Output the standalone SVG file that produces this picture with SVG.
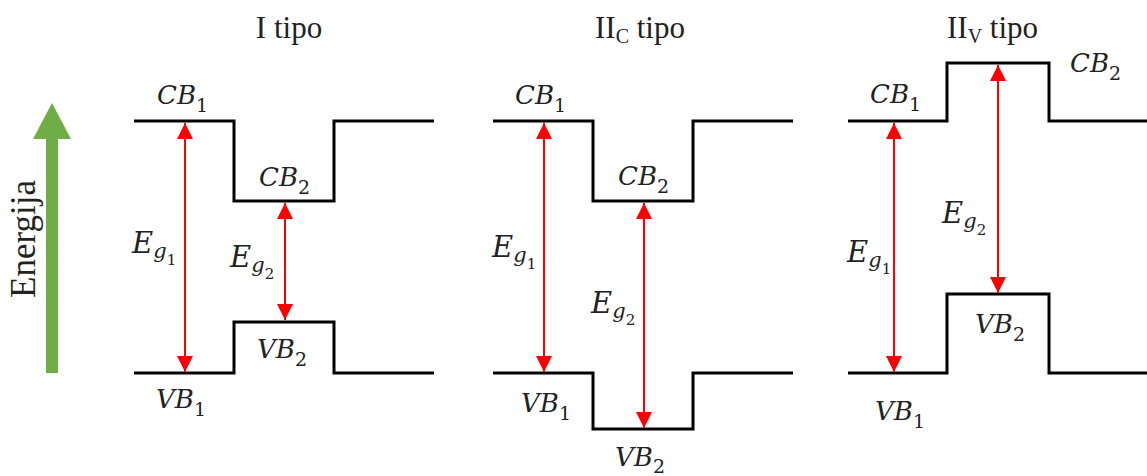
<svg xmlns="http://www.w3.org/2000/svg" width="1147" height="476" viewBox="0 0 1147 476">
<style>
.band{fill:none;stroke:#000;stroke-width:3;stroke-linejoin:miter}
.gap{stroke:#ff0000;stroke-width:2;fill:none;marker-start:url(#ah);marker-end:url(#ah)}
.lbl{font-family:"DejaVu Serif","Liberation Serif",serif;font-style:italic;font-size:26px;fill:#222}
.eg{font-size:29px}
.sub{font-size:19px}
.gsub{font-size:21px}
.num{font-style:normal}
.ss{font-size:15px;font-style:normal}
.ttl{font-family:"Liberation Serif",serif;font-size:31px;fill:#222}
.tsub{font-size:20px}
</style>
<defs>
<marker id="ah" markerUnits="userSpaceOnUse" markerWidth="16" markerHeight="16" refX="16" refY="8" orient="auto-start-reverse">
<path d="M0,0 L16,8 L0,16 z" fill="#ff0000"/>
</marker>
</defs>

<g id="energy-axis">
<rect x="46" y="138" width="12" height="235" fill="#70AD47"/>
<path d="M33,139 L52,103 L71,139 z" fill="#70AD47"/>
<text class="ttl" transform="translate(35,239) rotate(-90)" text-anchor="middle" style="font-size:35px">Energija</text>
</g>

<g id="type-I">
<text class="ttl" x="289" y="38" text-anchor="middle">I tipo</text>
<path class="band" d="M134,121 H234 V201 H334 V121 H434"/>
<path class="band" d="M134,373 H234 V322 H334 V373 H434"/>
<text class="lbl" x="157" y="104">CB<tspan class="sub num" dy="8">1</tspan></text>
<text class="lbl" x="259" y="186">CB<tspan class="sub num" dy="8">2</tspan></text>
<text class="lbl" x="156" y="408">VB<tspan class="sub num" dy="8">1</tspan></text>
<text class="lbl" x="257" y="358">VB<tspan class="sub num" dy="8">2</tspan></text>
<text class="lbl eg" x="132" y="253">E<tspan class="gsub" dy="5">g</tspan><tspan class="ss" dy="7">1</tspan></text>
<text class="lbl eg" x="230" y="267">E<tspan class="gsub" dy="5">g</tspan><tspan class="ss" dy="7">2</tspan></text>
</g>

<g id="type-IIC">
<text class="ttl" x="595" y="38">II<tspan class="tsub" dy="5">C</tspan><tspan dy="-5"> tipo</tspan></text>
<path class="band" d="M493,121 H593 V201 H693 V121 H793"/>
<path class="band" d="M493,373 H593 V429 H693 V373 H793"/>
<text class="lbl" x="515" y="104">CB<tspan class="sub num" dy="8">1</tspan></text>
<text class="lbl" x="618" y="185">CB<tspan class="sub num" dy="8">2</tspan></text>
<text class="lbl" x="521" y="412">VB<tspan class="sub num" dy="8">1</tspan></text>
<text class="lbl" x="615" y="466">VB<tspan class="sub num" dy="7">2</tspan></text>
<text class="lbl eg" x="492" y="257">E<tspan class="gsub" dy="5">g</tspan><tspan class="ss" dy="7">1</tspan></text>
<text class="lbl eg" x="591" y="313">E<tspan class="gsub" dy="5">g</tspan><tspan class="ss" dy="7">2</tspan></text>
</g>

<g id="type-IIV">
<text class="ttl" x="947" y="38">II<tspan class="tsub" dy="5">V</tspan><tspan dy="-5"> tipo</tspan></text>
<path class="band" d="M848,121 H947 V63 H1049 V121 H1147"/>
<path class="band" d="M848,373 H947 V294 H1049 V373 H1147"/>
<text class="lbl" x="870" y="103">CB<tspan class="sub num" dy="8">1</tspan></text>
<text class="lbl" x="1070" y="72">CB<tspan class="sub num" dy="8">2</tspan></text>
<text class="lbl" x="875" y="420">VB<tspan class="sub num" dy="8">1</tspan></text>
<text class="lbl" x="975" y="333">VB<tspan class="sub num" dy="8">2</tspan></text>
<text class="lbl eg" x="847" y="262">E<tspan class="gsub" dy="5">g</tspan><tspan class="ss" dy="7">1</tspan></text>
<text class="lbl eg" x="942" y="223">E<tspan class="gsub" dy="5">g</tspan><tspan class="ss" dy="7">2</tspan></text>
</g>

<g id="connectors">
<line class="gap" x1="185" y1="123" x2="185" y2="372"/>
<line class="gap" x1="285" y1="203" x2="285" y2="320"/>
<line class="gap" x1="544" y1="123" x2="544" y2="372"/>
<line class="gap" x1="644" y1="203" x2="644" y2="428"/>
<line class="gap" x1="894" y1="123" x2="894" y2="372"/>
<line class="gap" x1="998" y1="65" x2="998" y2="293"/>
</g>
</svg>
